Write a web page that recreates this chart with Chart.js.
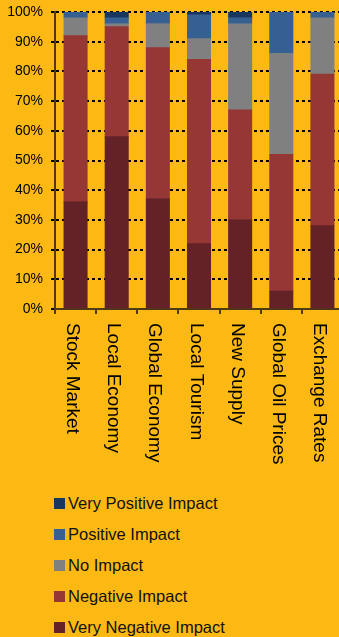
<!DOCTYPE html>
<html>
<head>
<meta charset="utf-8">
<script src="https://cdn.jsdelivr.net/npm/chart.js@4/dist/chart.umd.min.js"></script>
<style>
  html, body { margin: 0; padding: 0; background: #FDB913; overflow: hidden; }
  #wrap { position: relative; width: 339px; height: 637px; overflow: hidden; }
  #chart { position: absolute; left: 0; top: 0; }
  #legend { position: absolute; left: 54px; top: 488px; font-family: "Liberation Sans", Arial, sans-serif; font-size: 16.5px; color: #111; }
  .item { height: 31px; display: flex; align-items: center; white-space: nowrap; }
  .box { width: 11px; height: 11px; margin-right: 3px; }
</style>
</head>
<body>
<div id="wrap">
  <canvas id="chart" width="343" height="480"></canvas>
  <div id="legend"></div>
</div>
<script>
// categories along the x axis
let categories = ["Stock Market", "Local Economy", "Global Economy", "Local Tourism", "New Supply", "Global Oil Prices", "Exchange Rates"];

// share of answers (%), bottom of the stack first
let veryNegative = [36, 58, 37, 22, 30, 6, 28];
let negative     = [56, 37, 51, 62, 37, 46, 51];
let noImpact     = [6, 1, 8, 7, 29, 34, 19];
let positive     = [2, 2, 4, 8, 2, 14, 2];
let veryPositive = [0, 2, 0, 1, 2, 0, 0];

let seriesNames = ["Very Negative Impact", "Negative Impact", "No Impact", "Positive Impact", "Very Positive Impact"];
let seriesColors = ["#632326", "#953735", "#808080", "#376092", "#17375E"];

let fontFamily = '"Liberation Sans", Arial, sans-serif';
let axisColor = '#4f3b12';

let seriesData = [veryNegative, negative, noImpact, positive, veryPositive];
let datasets = [];
for (let i = 0; i < seriesData.length; i++) {
  datasets.push({
    label: seriesNames[i],
    data: seriesData[i],
    backgroundColor: seriesColors[i],
    borderWidth: 0,
    inflateAmount: 0.5,
    barPercentage: 0.56,
    categoryPercentage: 1
  });
}

// x labels drawn rotated clockwise (reading top to bottom)
let verticalLabels = {
  id: 'verticalLabels',
  afterDraw(chart) {
    let ctx = chart.ctx;
    let xScale = chart.scales.x;
    ctx.save();
    ctx.font = '19px ' + fontFamily;
    ctx.fillStyle = '#000';
    ctx.textAlign = 'left';
    ctx.textBaseline = 'alphabetic';
    for (let i = 0; i < categories.length; i++) {
      let x = xScale.getPixelForValue(i);
      ctx.save();
      ctx.translate(x - 8.5, chart.chartArea.bottom + 14);
      ctx.rotate(Math.PI / 2);
      ctx.fillText(categories[i], 0, 0);
      ctx.restore();
    }
    ctx.restore();
  }
};

let chart = new Chart(document.getElementById('chart').getContext('2d'), {
  type: 'bar',
  data: { labels: categories, datasets: datasets },
  plugins: [verticalLabels],
  options: {
    responsive: false,
    animation: false,
    layout: { padding: { left: 0, right: 0, top: 12, bottom: 166 } },
    plugins: { legend: { display: false }, tooltip: { enabled: false } },
    scales: {
      x: {
        stacked: true,
        offset: true,
        grid: { offset: true, drawOnChartArea: false, drawTicks: true, tickLength: 5, color: axisColor, lineWidth: 2 },
        border: { color: axisColor, width: 2 },
        ticks: { display: false }
      },
      y: {
        stacked: true,
        min: 0,
        max: 100,
        afterFit: function(scale) {
          scale.width = 55;
          scale.paddingTop = 0;
          scale.paddingBottom = 0;
        },
        ticks: {
          stepSize: 10,
          callback: function(v) { return v + '%'; },
          font: { family: fontFamily, size: 14 },
          color: '#000',
          padding: 8
        },
        grid: { color: '#000', lineWidth: 2, tickLength: 4, tickBorderDash: [3, 3] },
        border: { color: axisColor, width: 2, dash: [3, 3] }
      }
    }
  }
});

// legend, one entry per row, top of the stack first
let legend = document.getElementById('legend');
for (let i = seriesNames.length - 1; i >= 0; i--) {
  let item = document.createElement('div');
  item.className = 'item';
  let box = document.createElement('span');
  box.className = 'box';
  box.style.backgroundColor = seriesColors[i];
  item.appendChild(box);
  item.appendChild(document.createTextNode(seriesNames[i]));
  legend.appendChild(item);
}
</script>
</body>
</html>
